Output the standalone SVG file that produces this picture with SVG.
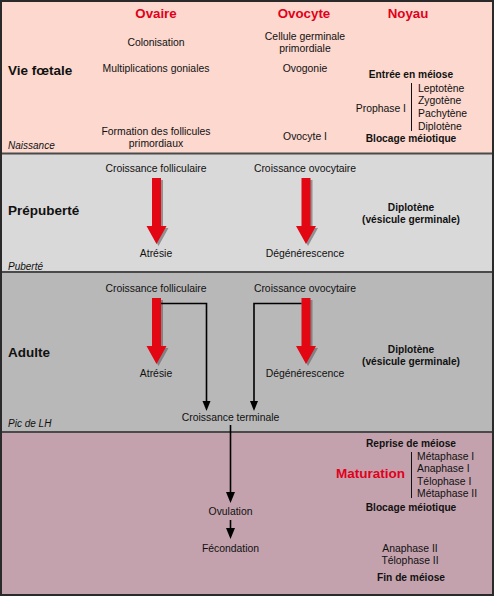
<svg xmlns="http://www.w3.org/2000/svg" width="494" height="596" viewBox="0 0 494 596">
<style>
text{font-family:"Liberation Sans",Arial,sans-serif;fill:#111}
.t{font-size:10.4px}
.c{text-anchor:middle}
.b{font-weight:bold;font-size:10.2px}
.h{font-weight:bold;font-size:13.3px;fill:#e2001a}
.p{font-weight:bold;font-size:13.5px}
.i{font-style:italic;font-size:10px}
.sep{stroke:#4a4a4a;stroke-width:2}
.con{stroke:#000;stroke-width:1.6;fill:none}
.red{fill:#e30613}
.sh{fill:#555;opacity:0.55}
</style>
<defs>
<marker id="ah" markerWidth="8" markerHeight="10" refX="4" refY="9" orient="auto" markerUnits="userSpaceOnUse" viewBox="0 0 8 10"><path d="M0,0 L8,0 L4,10 Z" fill="#000" transform="rotate(-90 4 5)"/></marker>
<polygon id="bigarrow" points="-4.5,0 4.5,0 4.5,48 10,48 0,66 -10,48 -4.5,48"/>
</defs>
<g id="bands">
<rect x="0" y="0" width="494" height="154" fill="#fcd8ce"/>
<rect x="0" y="154" width="494" height="118" fill="#d9d9d9"/>
<rect x="0" y="272" width="494" height="160" fill="#b8b8b8"/>
<rect x="0" y="432" width="494" height="164" fill="#c3a2ad"/>
<line class="sep" x1="0" y1="153.5" x2="494" y2="153.5"/>
<line class="sep" x1="0" y1="272" x2="494" y2="272"/>
<line class="sep" x1="0" y1="432" x2="494" y2="432"/>
<rect x="1" y="1" width="492" height="594" fill="none" stroke="#2a2a2a" stroke-width="2"/>
</g>
<g id="headers">
<text class="h c" x="156" y="18">Ovaire</text>
<text class="h c" x="304" y="18">Ovocyte</text>
<text class="h c" x="408" y="18">Noyau</text>
</g>
<g id="vie-foetale">
<text class="p" x="8" y="75">Vie fœtale</text>
<text class="i" x="8" y="149">Naissance</text>
<text class="t c" x="156" y="46">Colonisation</text>
<text class="t c" x="156" y="72">Multiplications goniales</text>
<text class="t c" x="156" y="135">Formation des follicules</text>
<text class="t c" x="156" y="147">primordiaux</text>
<text class="t c" x="305" y="40">Cellule germinale</text>
<text class="t c" x="305" y="52">primordiale</text>
<text class="t c" x="305" y="72">Ovogonie</text>
<text class="t c" x="305" y="140">Ovocyte I</text>
<text class="b c" x="411" y="78">Entrée en méiose</text>
<text class="t" x="406" y="112" text-anchor="end">Prophase I</text>
<line x1="411.5" y1="83" x2="411.5" y2="131" stroke="#111" stroke-width="1"/>
<text class="t" x="418" y="92">Leptotène</text>
<text class="t" x="418" y="104">Zygotène</text>
<text class="t" x="418" y="117">Pachytène</text>
<text class="t" x="418" y="130">Diplotène</text>
<text class="b c" x="411" y="142">Blocage méiotique</text>
</g>
<g id="prepuberte">
<text class="p" x="8" y="215">Prépuberté</text>
<text class="i" x="8" y="270">Puberté</text>
<text class="t c" x="156" y="172">Croissance folliculaire</text>
<text class="t c" x="305" y="172">Croissance ovocytaire</text>
<text class="t c" x="156" y="257">Atrésie</text>
<text class="t c" x="305" y="257">Dégénérescence</text>
<text class="b c" x="411" y="211">Diplotène</text>
<text class="b c" x="411" y="223">(vésicule germinale)</text>
</g>
<g id="adulte">
<text class="p" x="8" y="357">Adulte</text>
<text class="i" x="8" y="427">Pic de LH</text>
<text class="t c" x="156" y="292">Croissance folliculaire</text>
<text class="t c" x="305" y="292">Croissance ovocytaire</text>
<text class="t c" x="156" y="377">Atrésie</text>
<text class="t c" x="305" y="377">Dégénérescence</text>
<text class="b c" x="411" y="353">Diplotène</text>
<text class="b c" x="411" y="365">(vésicule germinale)</text>
<text class="t c" x="230.5" y="421">Croissance terminale</text>
</g>
<g id="maturation">
<text class="b c" x="411" y="447">Reprise de méiose</text>
<text class="p" x="405" y="478" text-anchor="end" style="fill:#e2001a">Maturation</text>
<line x1="411.5" y1="452" x2="411.5" y2="498" stroke="#111" stroke-width="1"/>
<text class="t" x="417" y="460">Métaphase I</text>
<text class="t" x="417" y="472">Anaphase I</text>
<text class="t" x="417" y="485">Télophase I</text>
<text class="t" x="417" y="497">Métaphase II</text>
<text class="b c" x="411" y="511">Blocage méiotique</text>
<text class="t c" x="230.5" y="515">Ovulation</text>
<text class="t c" x="230.5" y="552">Fécondation</text>
<text class="t c" x="410" y="552">Anaphase II</text>
<text class="t c" x="410" y="564">Télophase II</text>
<text class="b c" x="411" y="581">Fin de méiose</text>
</g>
<g id="connectors">
<use href="#bigarrow" class="sh" x="158.5" y="180"/>
<use href="#bigarrow" class="red" x="156.5" y="178"/>
<use href="#bigarrow" class="sh" x="308" y="180"/>
<use href="#bigarrow" class="red" x="306" y="178"/>
<use href="#bigarrow" class="sh" x="158.5" y="300"/>
<use href="#bigarrow" class="red" x="156.5" y="298"/>
<use href="#bigarrow" class="sh" x="308" y="300"/>
<use href="#bigarrow" class="red" x="306" y="298"/>
<polyline class="con" points="161,303.5 206.5,303.5 206.5,402"/>
<path d="M202.5,401 L210.5,401 L206.5,411 Z"/>
<polyline class="con" points="301.5,303.5 254,303.5 254,402"/>
<path d="M250,401 L258,401 L254,411 Z"/>
<line class="con" x1="230.5" y1="425" x2="230.5" y2="493"/>
<path d="M226,492 L235,492 L230.5,503 Z"/>
<line class="con" x1="230.5" y1="520" x2="230.5" y2="529"/>
<path d="M226,528 L235,528 L230.5,539 Z"/>
</g>
</svg>
